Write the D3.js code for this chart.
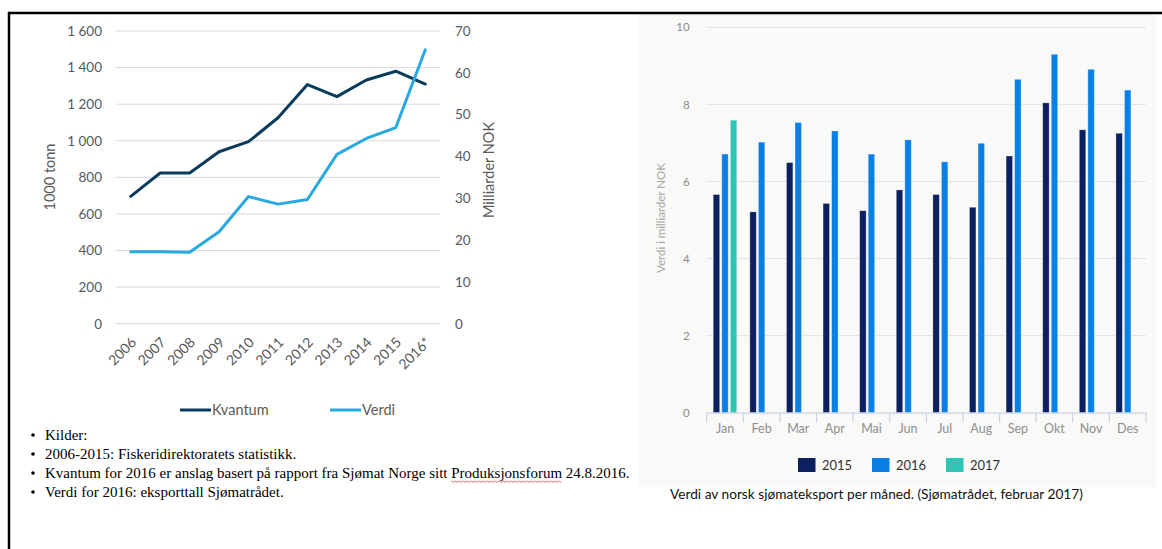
<!DOCTYPE html>
<html>
<head>
<meta charset="utf-8">
<script src="https://cdn.jsdelivr.net/npm/d3@7"></script>
<style>
  html, body { margin: 0; padding: 0; background: #ffffff; }
  svg { display: block; }
</style>
</head>
<body>
<svg id="page" width="1162" height="549"></svg>
<script>
// ---- Production and value, 2006-2016 ----
const years = ["2006", "2007", "2008", "2009", "2010", "2011", "2012", "2013", "2014", "2015", "2016*"];
const kvantum = [696, 824, 824, 940, 995, 1126, 1307, 1241, 1332, 1380, 1310];   // 1000 tonn
const verdi = [17.2, 17.2, 17.1, 22.0, 30.4, 28.6, 29.7, 40.5, 44.3, 46.9, 65.5];  // milliarder NOK
const tonnTicks = [0, 200, 400, 600, 800, 1000, 1200, 1400, 1600];
const nokTicks = [0, 10, 20, 30, 40, 50, 60, 70];

// ---- Monthly seafood export value ----
const months = ["Jan", "Feb", "Mar", "Apr", "Mai", "Jun", "Jul", "Aug", "Sep", "Okt", "Nov", "Des"];
const exp2015 = [5.66, 5.21, 6.49, 5.43, 5.24, 5.78, 5.66, 5.33, 6.66, 8.04, 7.34, 7.25];
const exp2016 = [6.71, 7.02, 7.53, 7.31, 6.71, 7.08, 6.51, 6.99, 8.65, 9.30, 8.91, 8.37];
const exp2017 = [7.59, null, null, null, null, null, null, null, null, null, null, null];
const exportTicks = [0, 2, 4, 6, 8, 10];
const seriesNames = ["2015", "2016", "2017"];

const notes = [
  "Kilder:",
  "2006-2015: Fiskeridirektoratets statistikk.",
  "Kvantum for 2016 er anslag basert på rapport fra Sjømat Norge sitt Produksjonsforum 24.8.2016.",
  "Verdi for 2016: eksporttall Sjømatrådet."
];
const flaggedWord = "Produksjonsforum";
const caption = "Verdi av norsk sjømateksport per måned. (Sjømatrådet, februar 2017)";

const svg = d3.select("#page");
const nb = d3.formatLocale({ decimal: ",", thousands: "\u00a0", grouping: [3], currency: ["", " kr"] });
const fmtTonn = nb.format(",d");

// ---------- page frame ----------
svg.append("rect").attr("x", 639).attr("y", 14).attr("width", 517).attr("height", 473).attr("fill", "#f9f9f7");
svg.append("line").attr("x1", 8).attr("x2", 1162).attr("y1", 13).attr("y2", 13).attr("stroke", "#000").attr("stroke-width", 2.5);
svg.append("line").attr("x1", 9).attr("x2", 9).attr("y1", 12).attr("y2", 549).attr("stroke", "#000").attr("stroke-width", 2.5);

// ---------- left chart: line chart with two y axes ----------
const L = { left: 116, right: 440, top: 31, bottom: 323.7 };
const xL = d3.scaleBand().domain(years).range([L.left, L.right]);
const yTonn = d3.scaleLinear().domain([0, 1600]).range([L.bottom, L.top]);
const yNok = d3.scaleLinear().domain([0, 70]).range([L.bottom, L.top]);
const leftFont = "Lato, 'Open Sans', sans-serif";
const axisGrey = "#595959";

const gl = svg.append("g");
gl.append("g").selectAll("line").data(tonnTicks).join("line")
  .attr("x1", L.left).attr("x2", L.right)
  .attr("y1", d => yTonn(d)).attr("y2", d => yTonn(d))
  .attr("stroke", "#d9d9d9").attr("stroke-width", 1);

const axL = gl.append("g").attr("transform", `translate(${L.left - 14},0)`)
  .call(d3.axisLeft(yTonn).tickValues(tonnTicks).tickFormat(fmtTonn).tickSize(0).tickPadding(0));
axL.select(".domain").remove();
axL.selectAll("text").attr("font-family", leftFont).attr("font-size", 13.5).attr("fill", axisGrey);

const axR = gl.append("g").attr("transform", `translate(${L.right + 15},0)`)
  .call(d3.axisRight(yNok).tickValues(nokTicks).tickSize(0).tickPadding(0));
axR.select(".domain").remove();
axR.selectAll("text").attr("font-family", leftFont).attr("font-size", 13.5).attr("fill", axisGrey);

gl.append("g").selectAll("text").data(years).join("text")
  .attr("transform", d => `translate(${xL(d) + xL.bandwidth() / 2 + 3},${L.bottom + 16}) rotate(-45)`)
  .attr("text-anchor", "end").attr("dy", "0.35em")
  .attr("font-family", leftFont).attr("font-size", 14).attr("fill", axisGrey)
  .text(d => d);

gl.append("text").attr("transform", `translate(55,177) rotate(-90)`)
  .attr("text-anchor", "middle").attr("font-family", leftFont).attr("font-size", 14.5).attr("fill", axisGrey)
  .text("1000 tonn");
gl.append("text").attr("transform", `translate(494,170) rotate(-90)`)
  .attr("text-anchor", "middle").attr("font-family", leftFont).attr("font-size", 14.5).attr("fill", axisGrey)
  .text("Milliarder NOK");

const cx = d => xL(d) + xL.bandwidth() / 2;
const kvantumColor = "#0b3b5c", verdiColor = "#29a9e1";
gl.append("path").datum(years)
  .attr("d", d3.line().x(cx).y((d, i) => yTonn(kvantum[i])))
  .attr("fill", "none").attr("stroke", kvantumColor).attr("stroke-width", 3).attr("stroke-linejoin", "round").attr("stroke-linecap", "round");
gl.append("path").datum(years)
  .attr("d", d3.line().x(cx).y((d, i) => yNok(verdi[i])))
  .attr("fill", "none").attr("stroke", verdiColor).attr("stroke-width", 3).attr("stroke-linejoin", "round").attr("stroke-linecap", "round");

const legL = gl.append("g");
[{ name: "Kvantum", color: kvantumColor, x: 180 }, { name: "Verdi", color: verdiColor, x: 330 }].forEach(s => {
  legL.append("line").attr("x1", s.x).attr("x2", s.x + 31).attr("y1", 410).attr("y2", 410)
    .attr("stroke", s.color).attr("stroke-width", 3);
  legL.append("text").attr("x", s.x + 32).attr("y", 415)
    .attr("font-family", leftFont).attr("font-size", 14.5).attr("fill", axisGrey).text(s.name);
});

// ---------- source notes ----------
const gn = svg.append("g").attr("font-family", "'Liberation Serif', 'Times New Roman', serif").attr("font-size", 15).attr("fill", "#000");
notes.forEach((t, i) => {
  const y = 440 + i * 19;
  gn.append("circle").attr("cx", 33).attr("cy", y - 5).attr("r", 1.8).attr("fill", "#000");
  const txt = gn.append("text").attr("x", 45).attr("y", y).text(t);
  const k = t.indexOf(flaggedWord);
  if (k >= 0) {
    // red spell-check squiggle under the flagged word
    const node = txt.node();
    const sx0 = 45 + node.getSubStringLength(0, k);
    const sx1 = sx0 + node.getSubStringLength(k, flaggedWord.length);
    const pts = d3.range(sx0, sx1 + 0.1, 2).map((x, j) => [x, y + 3 + (j % 2 ? 1.3 : 0)]);
    gn.append("path").attr("d", d3.line()(pts)).attr("fill", "none").attr("stroke", "#e04040").attr("stroke-width", 0.8);
  }
});

// ---------- right chart: grouped monthly bars ----------
const R = { left: 706.7, right: 1146, top: 27.3, bottom: 412.7 };
const xR = d3.scaleBand().domain(months).range([R.left, R.right]);
const groupW = 23.5;
const xSub = d3.scaleBand().domain(seriesNames).range([-groupW / 2, groupW / 2]).paddingInner(0.25);
const yExp = d3.scaleLinear().domain([0, 10]).range([R.bottom, R.top]);
const rightFont = "Lato, 'Open Sans', sans-serif";
const barColors = { "2015": "#0c1f5e", "2016": "#0a80e4", "2017": "#2fc5b4" };
const seriesData = { "2015": exp2015, "2016": exp2016, "2017": exp2017 };

const gr = svg.append("g");
gr.append("g").selectAll("line").data(exportTicks.filter(d => d > 0)).join("line")
  .attr("x1", R.left).attr("x2", R.right)
  .attr("y1", d => yExp(d)).attr("y2", d => yExp(d))
  .attr("stroke", "#e2e2e2").attr("stroke-width", 1);

const axY = gr.append("g").attr("transform", `translate(${R.left - 17},0)`)
  .call(d3.axisLeft(yExp).tickValues(exportTicks).tickSize(0).tickPadding(0));
axY.select(".domain").remove();
axY.selectAll("text").attr("font-family", rightFont).attr("font-size", 11.5).attr("fill", "#8a8a8a");

gr.append("text").attr("transform", `translate(665,218) rotate(-90)`)
  .attr("text-anchor", "middle").attr("font-family", rightFont).attr("font-size", 11.5).attr("fill", "#a6a6a6")
  .text("Verdi i milliarder NOK");

const bars = [];
months.forEach((m, i) => seriesNames.forEach(s => {
  const v = seriesData[s][i];
  if (v != null) bars.push({ m, s, v });
}));
gr.append("g").selectAll("rect").data(bars).join("rect")
  .attr("x", d => xR(d.m) + xR.bandwidth() / 2 + xSub(d.s))
  .attr("width", xSub.bandwidth())
  .attr("y", d => yExp(d.v))
  .attr("height", d => yExp(0) - yExp(d.v))
  .attr("fill", d => barColors[d.s])
  .attr("stroke", "#ffffff").attr("stroke-opacity", 0.35).attr("stroke-width", 0.8);

const axX = gr.append("g").attr("transform", `translate(0,${R.bottom})`)
  .call(d3.axisBottom(xR).tickSize(0).tickPadding(11));
axX.select(".domain").attr("stroke", "#c8d4e6").attr("stroke-width", 1.2);
axX.selectAll("text").attr("font-family", rightFont).attr("font-size", 12.5).attr("fill", "#8f8f8f");
axX.append("g").selectAll("line").data(d3.range(months.length + 1)).join("line")
  .attr("x1", i => R.left + i * xR.step()).attr("x2", i => R.left + i * xR.step())
  .attr("y1", 0).attr("y2", 10).attr("stroke", "#c8d4e6").attr("stroke-width", 1.2);

const legR = gr.append("g");
const legX = { "2015": 798, "2016": 872, "2017": 946 };
seriesNames.forEach(s => {
  legR.append("rect").attr("x", legX[s]).attr("y", 458).attr("width", 17.5).attr("height", 14).attr("fill", barColors[s]);
  legR.append("text").attr("x", legX[s] + 24).attr("y", 470)
    .attr("font-family", rightFont).attr("font-size", 13).attr("fill", "#333").text(s);
});

svg.append("text").attr("x", 670).attr("y", 499)
  .attr("font-family", "Lato, 'Open Sans', sans-serif").attr("font-size", 13.7).attr("fill", "#111")
  .text(caption);
</script>
</body>
</html>
